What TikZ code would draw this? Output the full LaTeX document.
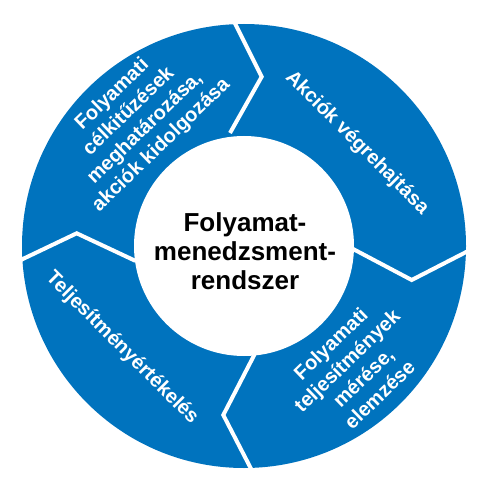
\documentclass[tikz,border=0pt]{standalone}
\usepackage{fontspec}
\setmainfont{Liberation Sans}
\definecolor{ringblue}{RGB}{0,115,190}
\begin{document}
\begin{tikzpicture}[x=1pt,y=1pt,
  seglabel/.style={text=white,font=\bfseries\fontsize{20}{23.5}\selectfont,align=center,inner sep=0pt},
  hublabel/.style={text=black,font=\bfseries\fontsize{26}{29}\selectfont,align=center,inner sep=0pt},
  sepline/.style={draw=white,line width=4pt,line join=miter,miter limit=10}]
\fill[white] (0,0) rectangle (492,488);
\useasboundingbox (0,0) rectangle (492,488);
\coordinate (c) at (244,242);
\fill[ringblue] (c) circle[radius=222];
% separators (chevrons)
\coordinate (t1) at (232.3,470); \coordinate (t2) at (261.7,411.3); \coordinate (t3) at (230,355);
\coordinate (r1) at (349.3,241); \coordinate (r2) at (411.7,208); \coordinate (r3) at (472.2,239.1);
\coordinate (b1) at (254.5,133.5); \coordinate (b2) at (223.3,73); \coordinate (b3) at (254.5,12.5);
\coordinate (l1) at (15.1,225.3); \coordinate (l2) at (76.7,254.7); \coordinate (l3) at (135.3,227.2);
\draw[sepline] (t1) -- (t2) -- (t3);
\draw[sepline] (r1) -- (r2) -- (r3);
\draw[sepline] (b1) -- (b2) -- (b3);
\draw[sepline] (l1) -- (l2) -- (l3);
\node[circle,fill=white,minimum size=220pt,inner sep=0pt] (hub) at (c) {};
\node[hublabel] (hubtext) at (245,236.5) {Folyamat-\\menedzsment-\\rendszer};
\node[seglabel,rotate=44] (s1) at (137,368) {Folyamati\\célkitűzések\\meghatározása,\\akciók kidolgozása};
\node[seglabel,rotate=-45] (s2) at (357,345) {Akciók végrehajtása};
\node[seglabel,rotate=44] (s3) at (355,119) {Folyamati\\teljesítmények\\mérése,\\elemzése};
\node[seglabel,rotate=-45] (s4) at (122,140) {Teljesítményértékelés};
\end{tikzpicture}
\end{document}
